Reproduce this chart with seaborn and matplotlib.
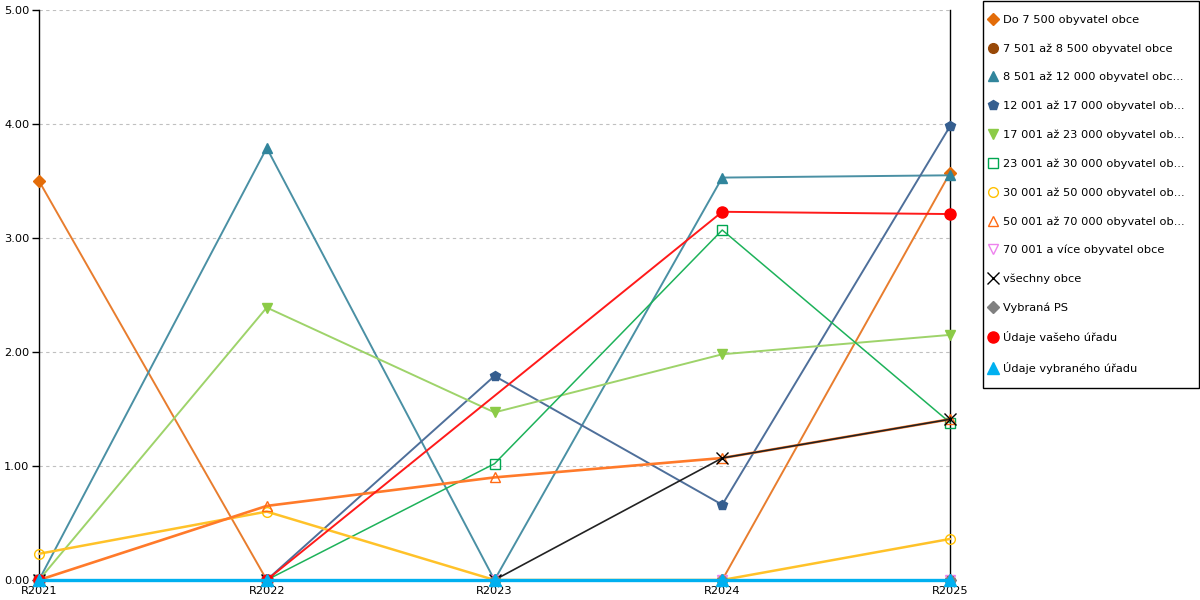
import numpy as np
import pandas as pd
import matplotlib
matplotlib.use("Agg")
import matplotlib.pyplot as plt
from matplotlib.lines import Line2D
from matplotlib.patches import Rectangle
from matplotlib.ticker import FormatStrFormatter, FixedLocator
import seaborn as sns

# Data
years = ["R2021", "R2022", "R2023", "R2024", "R2025"]

labels = [
    "Do 7 500 obyvatel obce",
    "7 501 až 8 500 obyvatel obce",
    "8 501 až 12 000 obyvatel obc...",
    "12 001 až 17 000 obyvatel ob...",
    "17 001 až 23 000 obyvatel ob...",
    "23 001 až 30 000 obyvatel ob...",
    "30 001 až 50 000 obyvatel ob...",
    "50 001 až 70 000 obyvatel ob...",
    "70 001 a více obyvatel obce",
    "všechny obce",
    "Vybraná PS",
    "Údaje vašeho úřadu",
    "Údaje vybraného úřadu",
]

do_7500 = [3.50, 0.00, 0.00, 0.00, 3.57]
od_7501 = [0.00, 0.00, 0.00, 0.00, 0.00]
od_8501 = [0.00, 3.79, 0.00, 3.53, 3.55]
od_12001 = [0.00, 0.00, 1.79, 0.66, 3.98]
od_17001 = [0.00, 2.39, 1.47, 1.98, 2.15]
od_23001 = [0.00, 0.00, 1.02, 3.07, 1.38]
od_30001 = [0.23, 0.60, 0.00, 0.00, 0.36]
od_50001 = [0.00, 0.65, 0.90, 1.07, 1.41]
od_70001 = [0.00, 0.00, 0.00, 0.00, 0.00]
vsechny = [0.00, 0.00, 0.00, 1.07, 1.41]
vybrana_ps = [0.00, 0.00, 0.00, 0.00, 0.00]
vas_urad = [0.00, 0.00, np.nan, 3.23, 3.21]
vybrany_urad = [0.00, 0.00, 0.00, 0.00, 0.00]

series = [do_7500, od_7501, od_8501, od_12001, od_17001, od_23001, od_30001,
          od_50001, od_70001, vsechny, vybrana_ps, vas_urad, vybrany_urad]

# styles: (line color, marker color, marker, filled, line width, marker size)
styles = [
    ("#E87D2E", "#E36C09", "D", True, 1.4, 6),
    ("#984807", "#984807", "o", True, 1.4, 7),
    ("#4A90A4", "#31859C", "^", True, 1.4, 7),
    ("#4E6F9A", "#355E8F", "p", True, 1.4, 7),
    ("#9ED36A", "#8CCB47", "v", True, 1.4, 7),
    ("#1DB25A", "#00A651", "s", False, 1.1, 7),
    ("#FFC229", "#FFC000", "o", False, 1.8, 7),
    ("#FF7A2A", "#FF6A13", "^", False, 1.9, 7),
    ("#EE82EE", "#EE82EE", "v", False, 1.1, 7),
    ("#222222", "#000000", "x", True, 1.2, 8),
    ("#808080", "#808080", "D", True, 1.2, 6),
    ("#FF1A1A", "#FF0000", "o", True, 1.4, 8),
    ("#00B0F0", "#00B0F0", "^", True, 2.4, 8),
]

sns.set_style("white")
plt.rcParams["font.family"] = ["DejaVu Sans"]
plt.rcParams["text.color"] = "black"

fig = plt.figure(figsize=(12, 6), dpi=100)
ax = fig.add_axes([39 / 1200, 20 / 600, 911 / 1200, 570 / 600])

handles = []
for i, (lab, vals, (lc, mc, mk, filled, lw, ms)) in enumerate(zip(labels, series, styles)):
    df = pd.DataFrame({"x": np.arange(len(years)), "y": vals}).dropna()
    face = mc if filled else "none"
    sns.lineplot(data=df, x="x", y="y", ax=ax, color=lc, linewidth=lw,
                 marker=mk, markersize=ms, markerfacecolor=face,
                 markeredgecolor=mc, markeredgewidth=1.0,
                 errorbar=None, clip_on=False, legend=False, zorder=3 + i)
    handles.append(Line2D([], [], linestyle="none", marker=mk, markersize=ms,
                          markerfacecolor=face, markeredgecolor=mc,
                          markeredgewidth=1.0, label=lab))

ax.set_xlim(0, len(years) - 1)
ax.set_ylim(0, 5)
ax.set_xticks(np.arange(len(years)))
ax.set_xticklabels(years)
ax.xaxis.set_minor_locator(FixedLocator(np.arange(len(years) - 1) + 0.5))
ax.tick_params(axis="x", which="major", length=0, pad=4.5, labelsize=8.2, labelcolor="black")
ax.tick_params(axis="x", which="minor", length=7, direction="inout", width=1, color="black")
ax.set_yticks(np.arange(0, 6, 1))
ax.yaxis.set_major_formatter(FormatStrFormatter("%.2f"))
ax.tick_params(axis="y", length=5, width=1, color="black", labelsize=8.2, pad=2,
               left=True, labelcolor="black")
ax.set_xlabel("")
ax.set_ylabel("")

ax.yaxis.grid(True, color="#C0C0C0", linestyle=(0, (3, 3)), linewidth=0.8)
ax.set_axisbelow(True)

for side in ["left", "right"]:
    ax.spines[side].set_visible(True)
    ax.spines[side].set_color("black")
    ax.spines[side].set_linewidth(1.0)
ax.spines["top"].set_visible(False)
ax.spines["bottom"].set_visible(True)
ax.spines["bottom"].set_color("black")

# legend box drawn separately so its padding matches the reference
fig.patches.append(Rectangle((983 / 1200, 1 - 388 / 600), 216 / 1200, 387 / 600,
                             transform=fig.transFigure, fill=False,
                             edgecolor="black", linewidth=1.0))
leg = fig.legend(handles=handles, loc="upper left", bbox_to_anchor=(983 / 1200, 1 - 9 / 600),
                 frameon=False, fontsize=8.2, labelcolor="black",
                 labelspacing=1.61, handlelength=0.8, handletextpad=0.45,
                 borderpad=0.5, borderaxespad=0)

fig.savefig("out.png", dpi=100)
